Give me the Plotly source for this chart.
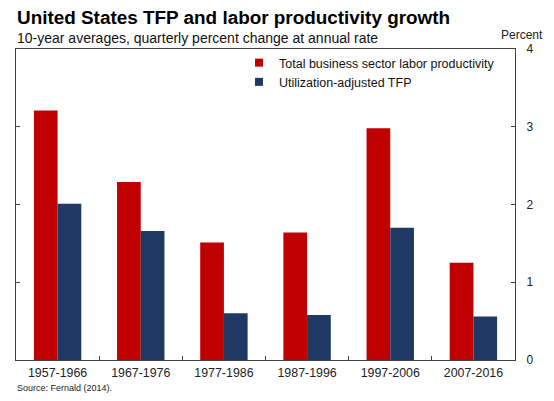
import plotly.graph_objects as go

categories = ["1957-1966", "1967-1976", "1977-1986", "1987-1996", "1997-2006", "2007-2016"]
labor_productivity = [3.21, 2.29, 1.51, 1.64, 2.98, 1.25]
util_tfp = [2.01, 1.66, 0.60, 0.58, 1.70, 0.56]
series_names = ["Total business sector labor productivity", "Utilization-adjusted TFP"]
y_ticks = [0, 1, 2, 3, 4]

RED = "#C00000"
NAVY = "#1F3864"
FONT = "Liberation Sans, Arial, sans-serif"
AXIS = "#404040"

fig = go.Figure()
fig.add_trace(go.Bar(x=categories, y=labor_productivity, marker_color=RED,
                     marker_line_width=0, showlegend=False, name=series_names[0]))
fig.add_trace(go.Bar(x=categories, y=util_tfp, marker_color=NAVY,
                     marker_line_width=0, showlegend=False, name=series_names[1]))
# legend entries with small square swatches
for nm, col in zip(series_names, [RED, NAVY]):
    fig.add_trace(go.Scatter(x=[None], y=[None], mode="markers", name=nm,
                             marker=dict(symbol="square", size=8, color=col)))

# The page body has an 8px default margin; compensate so the figure
# lands where the reference puts it.
OFF = 8
PAGE_W, PAGE_H = 554, 401
W, H = PAGE_W - OFF, PAGE_H - OFF
# plot area in page pixels
P_L, P_R, P_T, P_B = 16, 515, 49, 360
L, R, T, B = P_L - OFF, PAGE_W - P_R, P_T - OFF, PAGE_H - P_B


def px(x):  # page pixel -> paper
    return (x - P_L) / (P_R - P_L)


def py(y):
    return (P_B - y) / (P_B - P_T)


fig.update_layout(
    width=W, height=H,
    margin=dict(l=L, r=R, t=T, b=B),
    paper_bgcolor="white", plot_bgcolor="white",
    barmode="group", bargap=0.43, bargroupgap=0,
    font=dict(family=FONT, size=12, color="#222222"),
    legend=dict(x=px(239), y=py(48), xanchor="left", yanchor="top",
                font=dict(size=12.5, color="#111111"), bgcolor="rgba(0,0,0,0)",
                tracegroupgap=0, itemwidth=30),
    xaxis=dict(type="category", showline=True, linecolor=AXIS, linewidth=1, mirror=True,
               ticks="inside", tickson="boundaries", ticklen=4, tickcolor=AXIS,
               tickfont=dict(size=12.4, color="#222222"), showgrid=False, zeroline=False,
               range=[-0.5, 5.5], ticklabelstandoff=1),
    yaxis=dict(range=[0, 4], tickvals=y_ticks, side="right", showline=True, linecolor=AXIS,
               linewidth=1, mirror="ticks", ticks="inside", ticklen=4, tickcolor=AXIS,
               tickfont=dict(size=12, color="#222222"), showgrid=False, zeroline=False,
               ticklabelstandoff=8),
    annotations=[
        dict(text="<b>United States TFP and labor productivity growth</b>", x=px(15), y=py(17.5),
             xref="paper", yref="paper", xanchor="left", yanchor="middle", showarrow=False,
             font=dict(size=18.9, color="#000000")),
        dict(text="10-year averages, quarterly percent change at annual rate", x=px(15), y=py(37.5),
             xref="paper", yref="paper", xanchor="left", yanchor="middle", showarrow=False,
             font=dict(size=14, color="#111111")),
        dict(text="Percent", x=px(545), y=py(35), xref="paper", yref="paper",
             xanchor="right", yanchor="middle", showarrow=False,
             font=dict(size=12, color="#222222")),
        dict(text="Source: Fernald (2014).", x=px(15), y=py(388), xref="paper", yref="paper",
             xanchor="left", yanchor="middle", showarrow=False,
             font=dict(size=9, color="#222222")),
    ],
)

fig.write_html("out.html")
